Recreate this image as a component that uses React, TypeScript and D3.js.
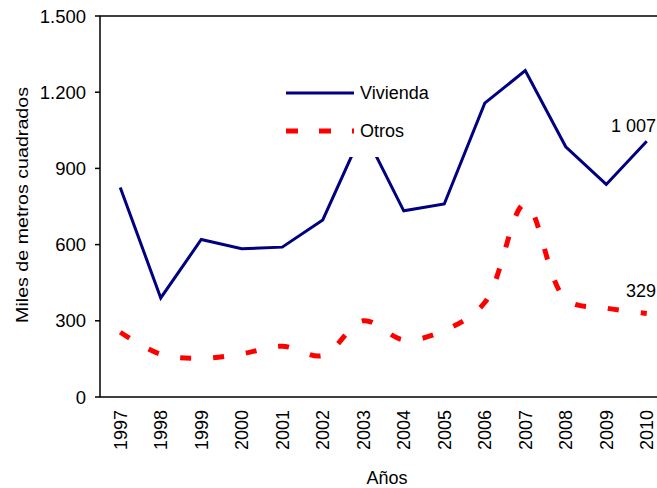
import React from "react";
import * as d3 from "d3";

const years = ["1997","1998","1999","2000","2001","2002","2003","2004","2005","2006","2007","2008","2009","2010"];
const vivienda = [825, 390, 620, 584, 590, 697, 1050, 733, 760, 1157, 1285, 985, 837, 1007];
const otros = [255, 168, 152, 170, 200, 163, 300, 225, 262, 372, 760, 385, 350, 329];
const yTicks = [0, 300, 600, 900, 1200, 1500];
const yTickLabels = ["0", "300", "600", "900", "1.200", "1.500"];

const W = 657, H = 488;
const left = 100, top = 16, bottom = 397, right = 667;
const FONT = "'Liberation Sans', Arial, sans-serif";

export default function App() {
  const x = d3.scaleBand<string>().domain(years).range([left, right]);
  const cx = (y: string) => (x(y) as number) + x.bandwidth() / 2;
  const y = d3.scaleLinear().domain([0, 1500]).range([bottom, top]);

  const lineV = d3.line<number>().x((_, i) => cx(years[i])).y((d) => y(d));
  const lineO = d3.line<number>().x((_, i) => cx(years[i])).y((d) => y(d)).curve(d3.curveCatmullRom.alpha(0.5));

  return (
    <svg width={W} height={H} style={{ position: "absolute", left: 0, top: 0, display: "block" }} fontFamily={FONT}>
      <rect x={0} y={0} width={W} height={H} fill="#fff" />
      {/* plot border */}
      <rect x={left} y={top} width={right - left} height={bottom - top} fill="none" stroke="#000" strokeWidth={1.5} />
      {/* y ticks */}
      {yTicks.map((t, i) => (
        <g key={t}>
          <line x1={left - 5} x2={left} y1={y(t)} y2={y(t)} stroke="#000" strokeWidth={1.5} />
          <text x={86} y={y(t)} dy="0.36em" textAnchor="end" fontSize={18.5} fill="#000">{yTickLabels[i]}</text>
        </g>
      ))}
      {/* x labels */}
      {years.map((yr) => (
        <text key={yr} transform={`translate(${cx(yr)},410) rotate(-90)`} textAnchor="end" dy="0.36em" fontSize={18} fill="#000">{yr}</text>
      ))}
      <text x={387} y={484} textAnchor="middle" fontSize={18} fill="#000">Años</text>
      <text transform={`translate(28,205) rotate(-90)`} textAnchor="middle" fontSize={17} fill="#000"
        textLength={236} lengthAdjust="spacingAndGlyphs">Miles de metros cuadrados</text>

      {/* series */}
      <path d={lineO(otros) || ""} fill="none" stroke="#FF0000" strokeWidth={5} strokeDasharray="11,22" />
      <path d={lineV(vivienda) || ""} fill="none" stroke="#000080" strokeWidth={3} strokeLinejoin="miter" />

      {/* legend */}
      <rect x={278} y={74} width={150} height={83} fill="#fff" />
      <line x1={286} x2={354} y1={93} y2={93} stroke="#000080" strokeWidth={3} />
      <text x={360} y={93} dy="0.36em" fontSize={18} fill="#000">Vivienda</text>
      <line x1={286} x2={354} y1={131} y2={131} stroke="#FF0000" strokeWidth={5} strokeDasharray="12,21" />
      <text x={360} y={131} dy="0.36em" fontSize={18} fill="#000">Otros</text>

      {/* data labels */}
      <text x={656} y={132} textAnchor="end" fontSize={18} fill="#000">1 007</text>
      <text x={656} y={297} textAnchor="end" fontSize={18} fill="#000">329</text>
    </svg>
  );
}
